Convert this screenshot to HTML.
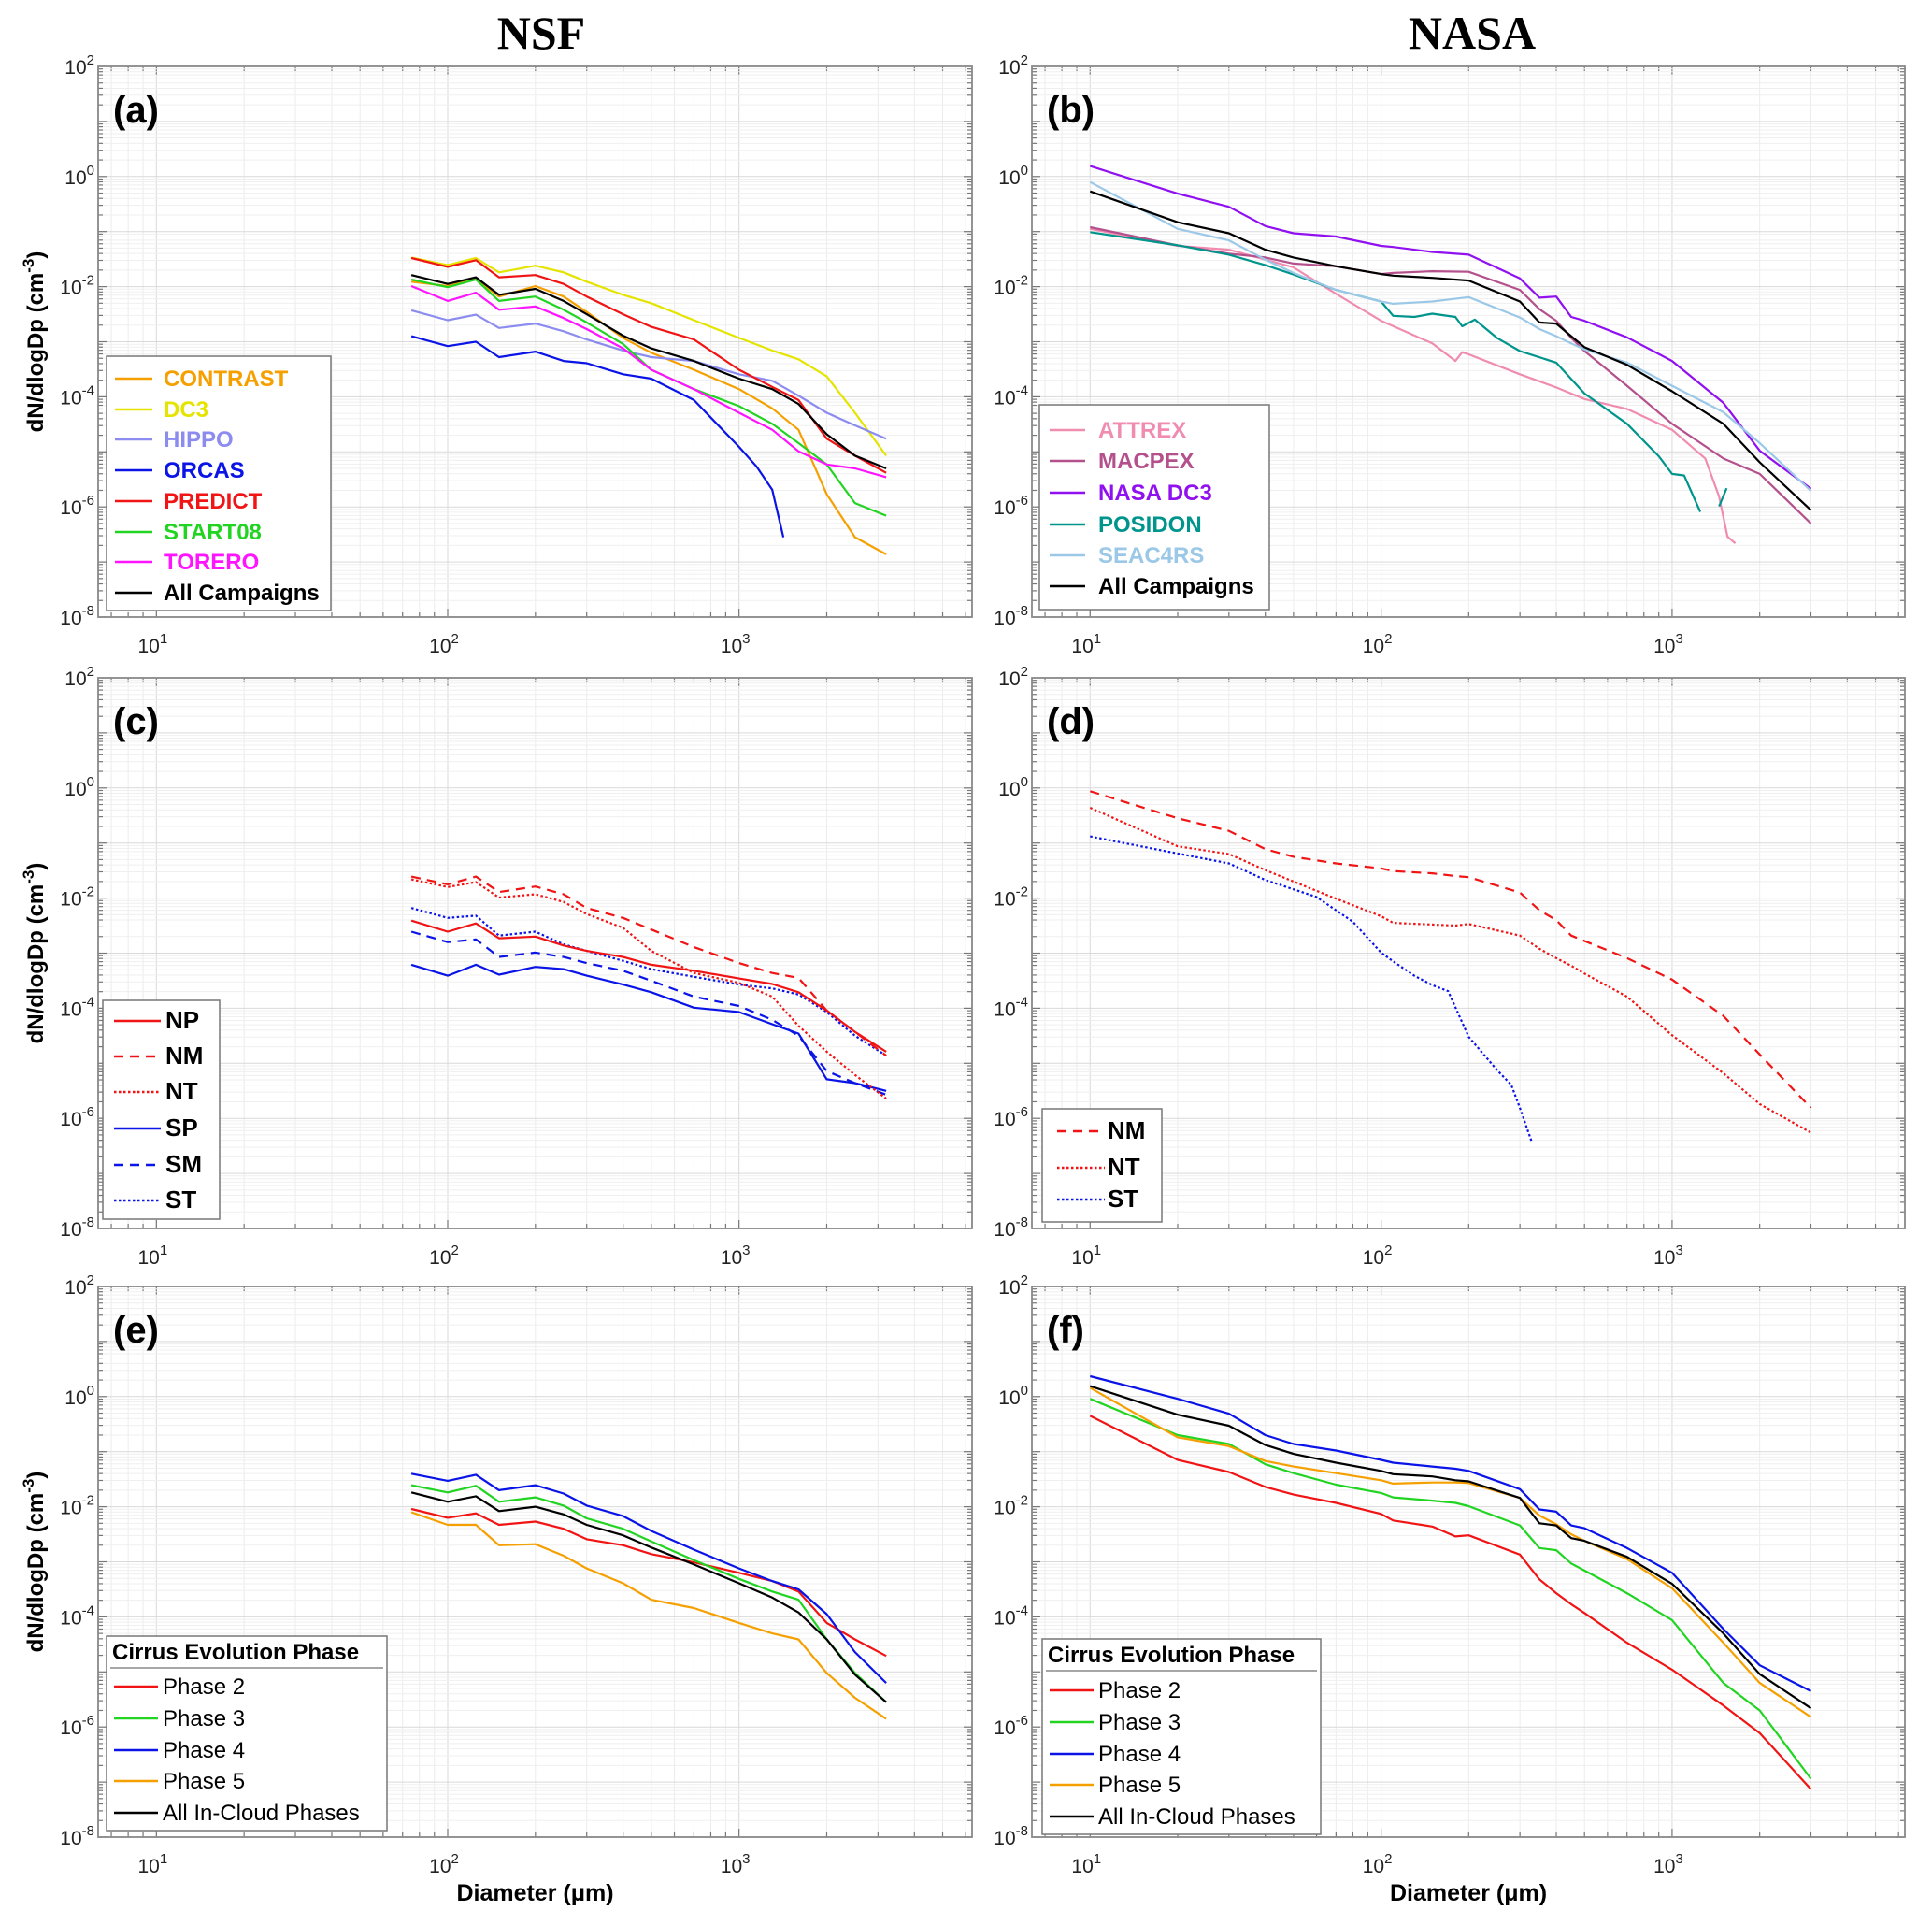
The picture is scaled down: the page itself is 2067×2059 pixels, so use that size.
<!DOCTYPE html>
<html><head><meta charset="utf-8">
<style>
html,body{margin:0;padding:0;background:#fff;}
svg{display:block;font-family:"Liberation Sans",sans-serif;}
</style></head>
<body>
<svg id="fig" xmlns="http://www.w3.org/2000/svg" width="2067" height="2059" viewBox="0 0 2067 2059">
<rect x="0" y="0" width="2067" height="2059" fill="#fff"/>
<text x="579" y="52" text-anchor="middle" font-family="Liberation Serif, serif" font-weight="bold" font-size="50">NSF</text>
<text x="1575" y="52" text-anchor="middle" font-family="Liberation Serif, serif" font-weight="bold" font-size="50">NASA</text>
</svg>
<script>
// ---- data (diameters in µm; values are log10 of dN/dlogDp in cm^-3) ----
const xNSF=[75,100,125,150,200,250,300,400,500,700,1000,1300,1600,2000,2500,3200];
const xORCAS=[75,100,125,150,200,250,300,400,500,700,1000,1150,1300,1420];
const xNASA20=[10,20,30,40,50,70,100,110,150,200,300,350,400,450,500,700,1000,1500,2000,3000];
const xNASA21=[10,20,30,40,50,70,100,110,150,180,200,300,350,400,450,500,700,1000,1500,2000,3000];
const xATTREX=[10,20,30,40,50,70,100,150,180,190,200,300,400,500,700,1000,1300,1450,1550,1650];
const xPOSIDON=[10,20,30,40,50,70,100,110,130,150,180,190,210,250,300,400,500,700,900,1000,1100,1250];
const xPOSIDON2=[1450,1540];
const xST_d=[10,20,30,40,50,60,80,100,110,130,150,170,200,250,280,300,330];

const aCONTRAST=[-1.91,-1.99,-1.86,-2.18,-1.99,-2.18,-2.46,-2.93,-3.20,-3.51,-3.86,-4.21,-4.60,-5.77,-6.55,-6.86];
const aDC3=[-1.47,-1.61,-1.48,-1.74,-1.62,-1.74,-1.91,-2.15,-2.30,-2.61,-2.93,-3.16,-3.32,-3.63,-4.29,-5.07];
const aHIPPO=[-2.43,-2.61,-2.51,-2.75,-2.67,-2.81,-2.96,-3.16,-3.28,-3.35,-3.59,-3.71,-3.98,-4.29,-4.52,-4.76];
const aORCAS=[-2.90,-3.08,-3.00,-3.28,-3.18,-3.35,-3.39,-3.59,-3.67,-4.06,-4.91,-5.27,-5.69,-6.55];
const aPREDICT=[-1.48,-1.64,-1.52,-1.83,-1.79,-1.95,-2.18,-2.50,-2.73,-2.96,-3.51,-3.82,-4.06,-4.76,-5.07,-5.38];
const aSTART08=[-1.87,-2.01,-1.87,-2.26,-2.18,-2.42,-2.65,-3.04,-3.51,-3.86,-4.17,-4.49,-4.84,-5.23,-5.93,-6.16];
const aTORERO=[-1.99,-2.26,-2.11,-2.42,-2.36,-2.57,-2.77,-3.12,-3.51,-3.86,-4.29,-4.60,-4.99,-5.23,-5.30,-5.46];
const aALL=[-1.79,-1.95,-1.83,-2.15,-2.04,-2.26,-2.50,-2.89,-3.12,-3.35,-3.67,-3.86,-4.13,-4.68,-5.07,-5.30];

const bATTREX=[-0.95,-1.26,-1.33,-1.51,-1.65,-2.13,-2.62,-3.03,-3.35,-3.19,-3.23,-3.59,-3.83,-4.04,-4.22,-4.60,-5.12,-5.81,-6.54,-6.66];
const bMACPEX=[-0.92,-1.25,-1.40,-1.47,-1.58,-1.63,-1.77,-1.75,-1.72,-1.73,-2.06,-2.41,-2.62,-2.93,-3.17,-3.80,-4.49,-5.12,-5.40,-6.30];
const bNASADC3=[0.19,-0.31,-0.55,-0.90,-1.03,-1.09,-1.26,-1.28,-1.37,-1.42,-1.85,-2.20,-2.18,-2.55,-2.62,-2.92,-3.35,-4.11,-4.98,-5.67];
const bPOSIDON=[-1.01,-1.25,-1.42,-1.61,-1.78,-2.06,-2.27,-2.53,-2.55,-2.49,-2.55,-2.72,-2.60,-2.93,-3.17,-3.38,-3.94,-4.49,-5.08,-5.40,-5.43,-6.09];
const bPOSIDON2=[-5.99,-5.66];
const bSEAC4RS=[-0.10,-0.95,-1.16,-1.51,-1.75,-2.06,-2.27,-2.31,-2.27,-2.19,-2.56,-2.77,-2.90,-3.03,-3.14,-3.38,-3.80,-4.28,-4.84,-5.71];
const bALL=[-0.27,-0.83,-1.03,-1.33,-1.47,-1.63,-1.77,-1.80,-1.84,-1.89,-2.27,-2.65,-2.67,-2.90,-3.10,-3.42,-3.90,-4.49,-5.19,-6.06];

const cNP=[-2.41,-2.61,-2.46,-2.73,-2.70,-2.86,-2.96,-3.07,-3.21,-3.32,-3.46,-3.56,-3.71,-4.04,-4.43,-4.79];
const cNM=[-1.61,-1.75,-1.61,-1.89,-1.79,-1.93,-2.18,-2.36,-2.57,-2.89,-3.18,-3.36,-3.45,-4.04,-4.43,-4.86];
const cNT=[-1.66,-1.80,-1.71,-1.99,-1.93,-2.07,-2.29,-2.54,-2.96,-3.36,-3.54,-3.79,-4.32,-4.79,-5.21,-5.64];
const cSP=[-3.21,-3.41,-3.21,-3.39,-3.25,-3.29,-3.41,-3.57,-3.71,-3.99,-4.07,-4.29,-4.46,-5.29,-5.36,-5.50];
const cSM=[-2.61,-2.80,-2.75,-3.07,-2.99,-3.07,-3.18,-3.32,-3.50,-3.79,-3.96,-4.21,-4.50,-5.14,-5.36,-5.57];
const cST=[-2.18,-2.36,-2.32,-2.68,-2.61,-2.84,-2.96,-3.14,-3.29,-3.43,-3.57,-3.64,-3.75,-4.07,-4.50,-4.86];

const dNM=[-0.06,-0.55,-0.78,-1.11,-1.25,-1.37,-1.46,-1.51,-1.55,-1.60,-1.62,-1.90,-2.22,-2.40,-2.68,-2.78,-3.09,-3.48,-4.14,-4.84,-5.81];
const dNT=[-0.36,-1.06,-1.20,-1.49,-1.70,-2.01,-2.33,-2.45,-2.48,-2.50,-2.47,-2.68,-2.92,-3.09,-3.23,-3.37,-3.79,-4.49,-5.18,-5.74,-6.26];
const dST=[-0.88,-1.19,-1.37,-1.67,-1.84,-1.98,-2.43,-2.99,-3.15,-3.41,-3.58,-3.69,-4.52,-5.12,-5.39,-5.81,-6.44];

const eP2=[-2.04,-2.20,-2.12,-2.33,-2.27,-2.40,-2.59,-2.70,-2.86,-3.01,-3.20,-3.35,-3.54,-4.11,-4.41,-4.71];
const eP3=[-1.61,-1.74,-1.62,-1.91,-1.83,-1.98,-2.21,-2.40,-2.63,-2.97,-3.31,-3.54,-3.69,-4.41,-5.02,-5.55];
const eP4=[-1.40,-1.53,-1.42,-1.70,-1.61,-1.76,-1.98,-2.17,-2.44,-2.78,-3.12,-3.35,-3.50,-3.95,-4.64,-5.20];
const eP5=[-2.10,-2.33,-2.33,-2.70,-2.68,-2.89,-3.12,-3.39,-3.69,-3.84,-4.11,-4.30,-4.41,-5.02,-5.47,-5.85];
const eALL=[-1.74,-1.91,-1.81,-2.08,-2.00,-2.14,-2.33,-2.52,-2.74,-3.05,-3.39,-3.65,-3.92,-4.41,-5.05,-5.55];

const fP2=[-0.35,-1.15,-1.37,-1.64,-1.78,-1.93,-2.13,-2.25,-2.36,-2.54,-2.52,-2.87,-3.32,-3.57,-3.77,-3.93,-4.47,-4.96,-5.61,-6.11,-7.13];
const fP3=[-0.04,-0.70,-0.86,-1.23,-1.39,-1.60,-1.75,-1.83,-1.89,-1.93,-1.99,-2.34,-2.75,-2.79,-3.03,-3.16,-3.57,-4.06,-5.20,-5.70,-6.94];
const fP4=[0.37,-0.04,-0.31,-0.70,-0.86,-0.98,-1.15,-1.20,-1.27,-1.31,-1.35,-1.68,-2.05,-2.09,-2.34,-2.39,-2.75,-3.20,-4.22,-4.88,-5.35];
const fP5=[0.16,-0.74,-0.90,-1.17,-1.27,-1.39,-1.52,-1.58,-1.56,-1.56,-1.57,-1.84,-2.16,-2.32,-2.50,-2.62,-2.95,-3.48,-4.47,-5.20,-5.82];
const fALL=[0.19,-0.33,-0.53,-0.88,-1.04,-1.20,-1.35,-1.41,-1.45,-1.52,-1.54,-1.84,-2.30,-2.34,-2.57,-2.62,-2.91,-3.40,-4.30,-5.04,-5.66];

const yTickExps=[2,0,-2,-4,-6,-8];
const xTickExps=[1,2,3];

// ---- rendering ----
const NS="http://www.w3.org/2000/svg";
const svg=document.getElementById('fig');
function el(tag,parent){const e=document.createElementNS(NS,tag);parent.appendChild(e);return e;}
const XMIN=0.8,XMAX=3.8,YMIN=-8,YMAX=2;

function makeAxes(px,py,pw,ph,id,label,showYLabel,showXLabel){
  const g=el('g',svg);
  
  
  const sx=v=>px+(Math.log10(v)-XMIN)/(XMAX-XMIN)*pw;
  const sy=lv=>py+(YMAX-lv)/(YMAX-YMIN)*ph;
  const grid=el('g',g);
  
  
  for(let d=0;d<=3;d++){for(let k=1;k<=9;k++){const v=k*Math.pow(10,d);const lx=Math.log10(v);if(lx<=XMIN||lx>=XMAX)continue;const x=sx(v);
    const l=el('line',grid);l.setAttribute('x1',x);l.setAttribute('x2',x);l.setAttribute('y1',py);l.setAttribute('y2',py+ph);
    l.setAttribute('stroke',k===1?'#d9d9d9':'#ececec');l.setAttribute('stroke-width',1);
    for(const yy of [py,py+ph]){const t=el('line',grid);t.setAttribute('x1',x);t.setAttribute('x2',x);t.setAttribute('y1',yy);t.setAttribute('y2',yy+(yy===py?1:-1)*(k===1?9:5));t.setAttribute('stroke','#777');t.setAttribute('stroke-width',1.2);}
  }}
  for(let d=YMIN;d<YMAX;d++){for(let k=1;k<=9;k++){const lv=d+Math.log10(k);const y=sy(lv);
    const l=el('line',grid);l.setAttribute('x1',px);l.setAttribute('x2',px+pw);l.setAttribute('y1',y);l.setAttribute('y2',y);
    l.setAttribute('stroke',k===1?'#d9d9d9':'#efefef');l.setAttribute('stroke-width',1);
    for(const xx of [px,px+pw]){const t=el('line',grid);t.setAttribute('y1',y);t.setAttribute('y2',y);t.setAttribute('x1',xx);t.setAttribute('x2',xx+(xx===px?1:-1)*(k===1?9:5));t.setAttribute('stroke','#777');t.setAttribute('stroke-width',1.2);}
  }}
  const box=el('rect',g);box.setAttribute('x',px);box.setAttribute('y',py);box.setAttribute('width',pw);box.setAttribute('height',ph);
  box.setAttribute('fill','none');box.setAttribute('stroke','#888');box.setAttribute('stroke-width',1.8);
  
  
  for(const e of yTickExps){const t=el('text',g);t.setAttribute('x',px-4);t.setAttribute('y',sy(e)+8);t.setAttribute('text-anchor','end');t.setAttribute('font-size','21');t.setAttribute('fill','#222');
    
    
    t.innerHTML='10<tspan dy="-10" font-size="15">'+e+'</tspan>';}
  for(const e of xTickExps){const t=el('text',g);t.setAttribute('x',sx(Math.pow(10,e))-4);t.setAttribute('y',py+ph+38);t.setAttribute('text-anchor','middle');t.setAttribute('font-size','21');t.setAttribute('fill','#222');
    
    
    t.innerHTML='10<tspan dy="-10" font-size="15">'+e+'</tspan>';}
  const pl=el('text',g);pl.setAttribute('x',px+16);pl.setAttribute('y',py+60);pl.setAttribute('font-size','40');pl.setAttribute('font-weight','bold');pl.textContent=label;
  
  
  if(showYLabel){const t=el('text',g);t.setAttribute('transform','translate(46,'+(py+ph/2)+') rotate(-90)');t.setAttribute('text-anchor','middle');t.setAttribute('font-size','24');t.setAttribute('font-weight','bold');
    t.innerHTML='dN/dlogDp (cm<tspan dy="-10" font-size="17">-3</tspan><tspan dy="10">)</tspan>';
    
    }
  if(showXLabel){const t=el('text',g);t.setAttribute('x',px+pw/2);t.setAttribute('y',py+ph+68);t.setAttribute('text-anchor','middle');t.setAttribute('font-size','25');t.setAttribute('font-weight','bold');
    t.textContent='Diameter (\u03BCm)';
    
    }
  return {g,sx,sy};
}
function series(ax,xs,ys,color,name,dash){
  const p=el('path',ax.g);
  let d='';for(let i=0;i<xs.length;i++){d+=(i?'L':'M')+ax.sx(xs[i]).toFixed(1)+' '+ax.sy(ys[i]).toFixed(1);}
  p.setAttribute('d',d);p.setAttribute('fill','none');p.setAttribute('stroke',color);p.setAttribute('stroke-width',2.2);p.setAttribute('stroke-linejoin','round');
  if(dash)p.setAttribute('stroke-dasharray',dash);
  
  
}
function legend(ax,x,y,w,h,entries,opts){
  const g=el('g',ax.g);
  
  
  const r=el('rect',g);r.setAttribute('x',x);r.setAttribute('y',y);r.setAttribute('width',w);r.setAttribute('height',h);r.setAttribute('fill','#fff');r.setAttribute('stroke','#777');r.setAttribute('stroke-width',1.5);
  if(opts.title){const t=el('text',g);t.setAttribute('x',x+6);t.setAttribute('y',opts.titleY);t.setAttribute('font-size','24');t.setAttribute('font-weight','bold');t.textContent=opts.title;
    
    
    const l=el('line',g);l.setAttribute('x1',x+4);l.setAttribute('x2',x+w-4);l.setAttribute('y1',opts.titleY+9);l.setAttribute('y2',opts.titleY+9);l.setAttribute('stroke','#888');l.setAttribute('stroke-width',1.5);}
  entries.forEach(en=>{
    const eg=el('g',g);
    
    
    const l=el('line',eg);l.setAttribute('x1',x+opts.lx1);l.setAttribute('x2',x+opts.lx2);l.setAttribute('y1',en.y);l.setAttribute('y2',en.y);l.setAttribute('stroke',en.color);l.setAttribute('stroke-width',2.5);
    if(en.dash)l.setAttribute('stroke-dasharray',en.dash);
    const t=el('text',eg);t.setAttribute('x',x+opts.tx);t.setAttribute('y',en.y+8);t.setAttribute('font-size',opts.fs);t.setAttribute('font-weight',opts.bold?'bold':'normal');t.setAttribute('fill',opts.colored?en.color:'#000');
    t.textContent=en.label;
  });
}
const C={orange:'#f5a000',yellow:'#e4e400',hippo:'#8c8cf0',blue:'#0a14e6',red:'#f01414',green:'#22d422',mag:'#ff14ff',pink:'#f08cb0',macpex:'#b4508c',purple:'#9010f0',teal:'#00958c',seac:'#9cc8e8'};
const DASH='10,7', DOT='2.5,2.5';

// Panel a
const A=makeAxes(105,71,935,589,'a','(a)',true,false);
series(A,xNSF,aCONTRAST,C.orange,'line-contrast');
series(A,xNSF,aDC3,C.yellow,'line-dc3');
series(A,xNSF,aHIPPO,C.hippo,'line-hippo');
series(A,xORCAS,aORCAS,C.blue,'line-orcas');
series(A,xNSF,aSTART08,C.green,'line-start08');
series(A,xNSF,aTORERO,C.mag,'line-torero');
series(A,xNSF,aPREDICT,C.red,'line-predict');
series(A,xNSF,aALL,'#000','line-all-campaigns');
legend(A,114,381,240,272,[
 {label:'CONTRAST',color:C.orange,y:405},{label:'DC3',color:C.yellow,y:438},{label:'HIPPO',color:C.hippo,y:470},
 {label:'ORCAS',color:C.blue,y:503},{label:'PREDICT',color:C.red,y:536},{label:'START08',color:C.green,y:569},
 {label:'TORERO',color:C.mag,y:601},{label:'All Campaigns',color:'#000',y:634}],{lx1:9,lx2:49,tx:61,fs:24,bold:true,colored:true});

// Panel b
const B=makeAxes(1104,71,934,589,'b','(b)',false,false);
series(B,xATTREX,bATTREX,C.pink,'line-attrex');
series(B,xNASA20,bMACPEX,C.macpex,'line-macpex');
series(B,xNASA20,bNASADC3,C.purple,'line-nasa-dc3');
series(B,xPOSIDON,bPOSIDON,C.teal,'line-posidon');
series(B,xPOSIDON2,bPOSIDON2,C.teal,'line-posidon-tail');
series(B,xNASA20,bSEAC4RS,C.seac,'line-seac4rs');
series(B,xNASA20,bALL,'#000','line-all-campaigns');
legend(B,1112,433,246,219,[
 {label:'ATTREX',color:C.pink,y:460},{label:'MACPEX',color:C.macpex,y:493},{label:'NASA DC3',color:C.purple,y:527},
 {label:'POSIDON',color:C.teal,y:561},{label:'SEAC4RS',color:C.seac,y:594},{label:'All Campaigns',color:'#000',y:627}],{lx1:11,lx2:49,tx:63,fs:24,bold:true,colored:true});

// Panel c
const Cc=makeAxes(105,725,935,589,'c','(c)',true,false);
series(Cc,xNSF,cSP,C.blue,'line-sp');
series(Cc,xNSF,cSM,C.blue,'line-sm',DASH);
series(Cc,xNSF,cST,C.blue,'line-st',DOT);
series(Cc,xNSF,cNT,C.red,'line-nt',DOT);
series(Cc,xNSF,cNM,C.red,'line-nm',DASH);
series(Cc,xNSF,cNP,C.red,'line-np');
legend(Cc,110,1070,125,234,[
 {label:'NP',color:C.red,y:1092},{label:'NM',color:C.red,y:1130,dash:DASH},{label:'NT',color:C.red,y:1168,dash:DOT},
 {label:'SP',color:C.blue,y:1207},{label:'SM',color:C.blue,y:1246,dash:DASH},{label:'ST',color:C.blue,y:1284,dash:DOT}],{lx1:12,lx2:62,tx:67,fs:26,bold:true,colored:false});

// Panel d
const D=makeAxes(1104,725,934,589,'d','(d)',false,false);
series(D,xNASA21,dNM,C.red,'line-nm',DASH);
series(D,xNASA21,dNT,C.red,'line-nt',DOT);
series(D,xST_d,dST,C.blue,'line-st',DOT);
legend(D,1115,1186,128,121,[
 {label:'NM',color:C.red,y:1210,dash:DASH},{label:'NT',color:C.red,y:1249,dash:DOT},{label:'ST',color:C.blue,y:1283,dash:DOT}],{lx1:16,lx2:67,tx:70,fs:26,bold:true,colored:false});

// Panel e
const E=makeAxes(105,1376,935,589,'e','(e)',true,true);
series(E,xNSF,eP5,C.orange,'line-phase-5');
series(E,xNSF,eP2,C.red,'line-phase-2');
series(E,xNSF,eP3,C.green,'line-phase-3');
series(E,xNSF,eP4,C.blue,'line-phase-4');
series(E,xNSF,eALL,'#000','line-all-in-cloud');
legend(E,114,1750,300,208,[
 {label:'Phase 2',color:C.red,y:1804},{label:'Phase 3',color:C.green,y:1838},{label:'Phase 4',color:C.blue,y:1872},
 {label:'Phase 5',color:C.orange,y:1905},{label:'All In-Cloud Phases',color:'#000',y:1939}],{lx1:8,lx2:55,tx:60,fs:24,bold:false,colored:false,title:'Cirrus Evolution Phase',titleY:1775});

// Panel f
const F=makeAxes(1104,1376,934,589,'f','(f)',false,true);
series(F,xNASA21,fP2,C.red,'line-phase-2');
series(F,xNASA21,fP3,C.green,'line-phase-3');
series(F,xNASA21,fP5,C.orange,'line-phase-5');
series(F,xNASA21,fALL,'#000','line-all-in-cloud');
series(F,xNASA21,fP4,C.blue,'line-phase-4');
legend(F,1115,1753,298,209,[
 {label:'Phase 2',color:C.red,y:1808},{label:'Phase 3',color:C.green,y:1842},{label:'Phase 4',color:C.blue,y:1876},
 {label:'Phase 5',color:C.orange,y:1909},{label:'All In-Cloud Phases',color:'#000',y:1943}],{lx1:8,lx2:55,tx:60,fs:24,bold:false,colored:false,title:'Cirrus Evolution Phase',titleY:1778});
</script>
</body></html>
